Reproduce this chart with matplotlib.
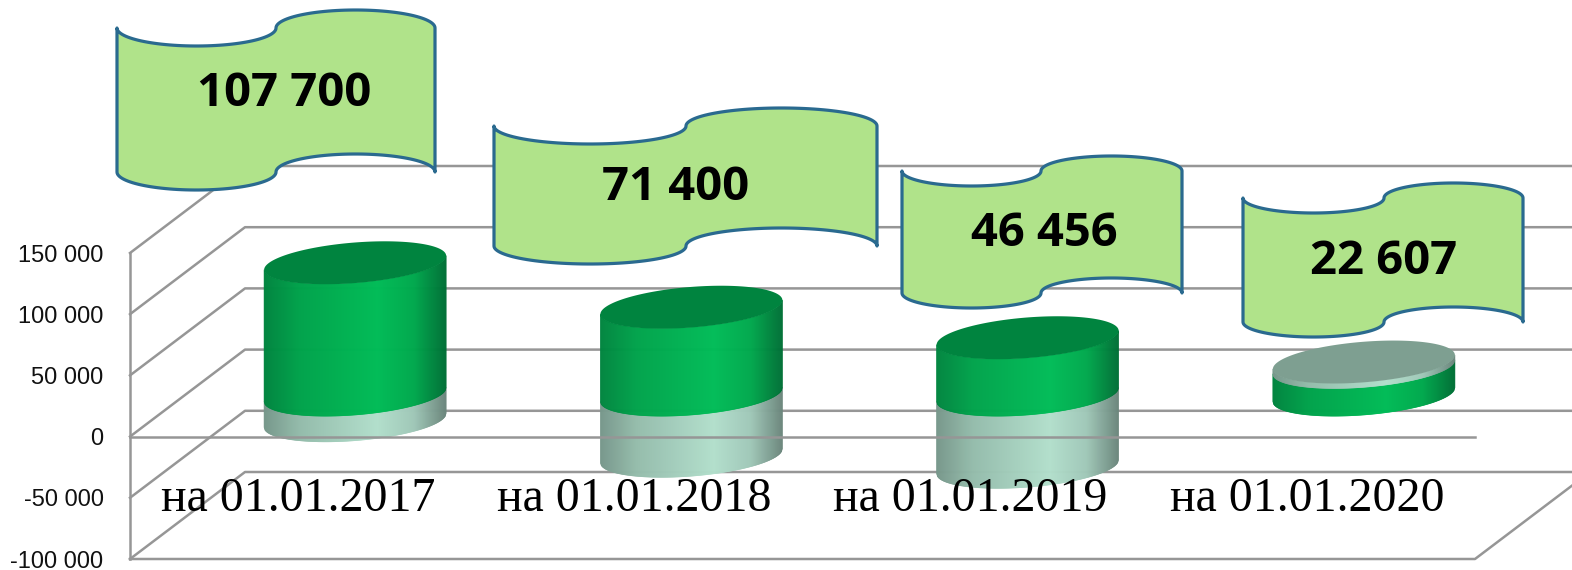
import numpy as np
import matplotlib as mpl
mpl.use("Agg")
import matplotlib.pyplot as plt
from matplotlib.collections import PolyCollection
from matplotlib.patches import Polygon
from matplotlib.transforms import IdentityTransform, Affine2D

categories = ["на 01.01.2017", "на 01.01.2018", "на 01.01.2019", "на 01.01.2020"]
series_green = [107700, 71400, 46456, 22607]
series_gray = [-21000, -50000, -59000, 4000]
banner_labels = ["107 700", "71 400", "46 456", "22 607"]
y_ticks = [-100000, -50000, 0, 50000, 100000, 150000]
y_tick_labels = ["-100 000", "-50 000", "0", "50 000", "100 000", "150 000"]

W, H = 1572, 570
LINE = "#969696"

fig = plt.figure(figsize=(W / 100, H / 100), dpi=100)
ax = fig.add_axes([130 / W, (H - 559) / H, 1345 / W, 306 / H])
ax.set_xlim(-0.5, 3.5)
ax.set_ylim(-100000, 150000)
for s in ax.spines.values():
    s.set_visible(False)
ax.set_xticks(range(4))
ax.set_xticklabels(categories, family="Liberation Serif", fontsize=34.5)
ax.set_yticks(y_ticks)
ax.set_yticklabels(y_tick_labels, family="Liberation Sans", fontsize=17, color="#111111")
ax.tick_params(axis="x", length=0, pad=-59)
ax.tick_params(axis="y", length=0, pad=19)
for lab in ax.get_yticklabels():
    lab.set_verticalalignment("center")
    lab.set_transform(lab.get_transform() + Affine2D().translate(0, -2.5))

# pixel helpers, y measured up from the bottom of the figure
def px(cat, val, dx=0, dy=0):
    p = ax.transData.transform((cat, val))
    return p[0] + dx, p[1] + dy

def pline(xs, ys, z=1):
    ax.plot(xs, ys, color=LINE, lw=1.8, transform=IdentityTransform(), clip_on=False, zorder=z)

# back wall lines and left wall
for v in y_ticks:
    x0, y0 = px(-0.5, v)
    x1, y1 = px(-0.5, v, 115, 87)
    pline([x0, x1, x1 + 1400], [y0, y1, y1])
x0, y0 = px(-0.5, -100000)
x1, y1 = px(-0.5, 150000)
pline([x0, x1], [y0, y1])
x2, y2 = px(3.5, -100000)
pline([x0, x2, x2 + 115], [y0, y2, y2 + 87])

A = 91
B = 20.3
K = 0.077
us = np.linspace(-1, 1, 183)

def lower_arc(cx, cy, u):
    return cy + K * A * u - B * np.sqrt(np.clip(1 - u ** 2, 0, 1))

def shade(u, stops):
    pos = [-1, -0.6, 0.25, 0.65, 1]
    rgb = np.array([mpl.colors.to_rgb(c) for c in stops])
    return np.column_stack([np.interp(u, pos, rgb[:, i]) for i in range(3)])

GREEN = ["#00843F", "#00A34B", "#00BC57", "#00A94D", "#006F36"]
GRAY = ["#76968A", "#94BCAB", "#B2DFCC", "#A0C8B8", "#6B867C"]

def segment(cx, base, v0, v1, stops, z):
    _, y0 = px(0, v0, 0, 0)
    _, y1 = px(0, v1, 0, 0)
    polys = []
    mids = (us[:-1] + us[1:]) / 2
    for a, b in zip(us[:-1], us[1:]):
        xa, xb = cx + A * a, cx + A * b
        polys.append([(xa, lower_arc(cx, y0 + base, a)), (xb, lower_arc(cx, y0 + base, b)),
                      (xb, lower_arc(cx, y1 + base, b)), (xa, lower_arc(cx, y1 + base, a))])
    cols = shade(mids, stops)
    pc = PolyCollection(polys, facecolors=cols, edgecolors=cols, linewidths=0.5,
                        transform=IdentityTransform(), clip_on=False, zorder=z)
    ax.add_collection(pc, autolim=False)

def cap(cx, base, v, color, z):
    _, y = px(0, v)
    t = np.linspace(0, 2 * np.pi, 200)
    xs = cx + A * np.cos(t)
    ys = y + base + K * A * np.cos(t) + B * np.sin(t)
    ax.fill(xs, ys, color=color, lw=0, transform=IdentityTransform(), clip_on=False, zorder=z)

for i in range(4):
    cx, _ = px(i, 0, 57)
    g = series_green[i]
    e = series_gray[i]
    if e < 0:
        segment(cx, 42, e, 0, GRAY, 1.5)
        segment(cx, 42, 0, g, GREEN, 1.6)
        cap(cx, 42, g, "#00843F", 1.7)
    else:
        segment(cx, 42, 0, g, GREEN, 1.5)
        segment(cx, 42, g, g + e, GRAY, 1.6)
        cap(cx, 42, g + e, "#7E9F91", 1.7)

# front zero line goes over the cylinders
x0, y0 = px(-0.5, 0)
x1, y1 = px(3.5, 0)
pline([x0, x1], [y0, y1], z=2.2)

# wave banners (image pixels: left, right, middle, top corner, height, amplitude)
banner_boxes = [(117, 435, 276, 28, 144, 18), (494, 877, 686, 126, 120, 18),
                (902, 1182, 1041, 171, 122, 15), (1243, 1523, 1384, 198, 124, 15)]
banner_text_pos = [(284, 94), (676, 188), (1044, 233), (1384, 261)]

def wave(xl, xr, xm, y, amp):
    t = np.linspace(0, np.pi, 60)
    u = (1 - np.cos(t)) / 2
    arc = np.sin(t)
    lx = xl + (xm - xl) * u
    ly = y + amp * arc
    rx = xm + (xr - xm) * u
    ry = y - amp * arc
    return np.concatenate([lx, rx]), np.concatenate([ly, ry])

for box, label, pos in zip(banner_boxes, banner_labels, banner_text_pos):
    xl, xr, xm, top, h, amp = box
    tx, ty = wave(xl, xr, xm, top, amp)
    bx, by = wave(xl, xr, xm, top + h, amp)
    pts = np.column_stack([np.concatenate([tx, bx[::-1]]), H - np.concatenate([ty, by[::-1]])])
    ax.add_patch(Polygon(pts, closed=True, facecolor="#B0E38A", edgecolor="#2A6A8F", lw=2.3,
                         joinstyle="round", transform=IdentityTransform(), clip_on=False, zorder=5))
    ax.text(pos[0], H - pos[1], label, family="Open Sans", weight="bold", fontsize=34, color="black",
            ha="center", va="center", transform=IdentityTransform(), zorder=6)

fig.savefig("out.png", dpi=100)
